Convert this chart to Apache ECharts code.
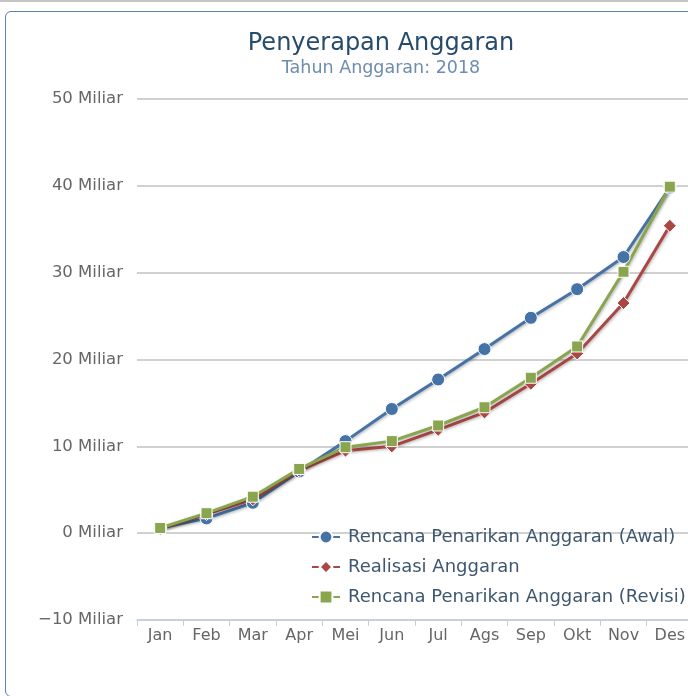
<!DOCTYPE html>
<html>
<head>
<meta charset="utf-8">
<title>Penyerapan Anggaran</title>
<script src="https://cdn.jsdelivr.net/npm/echarts@6/dist/echarts.min.js"></script>
<style>
    html, body { margin: 0; padding: 0; background: #fff; overflow: hidden; }
    .topline { position: absolute; left: 0; top: 0; width: 688px; height: 2px; background: #c4c4c4; }
    .box {
        position: absolute; left: 5px; top: 11px; width: 760px; height: 684px;
        border: 1px solid #5a82b4; border-radius: 6px; overflow: hidden;
    }
    #chart { position: absolute; left: -6px; top: -12px; width: 762px; height: 696px; }
</style>
</head>
<body>
<div class="topline"></div>
<div class="box"><div id="chart"></div></div>
<script>
// bulan
const months = ['Jan', 'Feb', 'Mar', 'Apr', 'Mei', 'Jun', 'Jul', 'Ags', 'Sep', 'Okt', 'Nov', 'Des']
// nilai dalam miliar
const rencanaAwal = [0.6, 1.7, 3.5, 7.1, 10.6, 14.3, 17.7, 21.2, 24.8, 28.1, 31.8, 39.8]
const realisasi = [0.5, 2.2, 3.9, 7.2, 9.5, 10.0, 11.9, 13.9, 17.2, 20.7, 26.5, 35.4]
const rencanaRevisi = [0.6, 2.3, 4.2, 7.4, 9.9, 10.6, 12.4, 14.5, 17.9, 21.5, 30.1, 39.9]

const font = 'DejaVu Sans'
const shadow = {
    shadowColor: 'rgba(0,0,0,0.3)',
    shadowBlur: 3,
    shadowOffsetX: 1,
    shadowOffsetY: 1
}

function makeSeries(name, data, color, symbol, size) {
    return {
        name: name,
        type: 'line',
        data: data,
        symbol: symbol,
        symbolSize: size,
        showAllSymbol: true,
        lineStyle: Object.assign({ color: color, width: 3 }, shadow),
        itemStyle: { color: color, borderColor: '#fff', borderWidth: 1 },
        emphasis: { disabled: true }
    }
}

let chart = echarts.init(document.getElementById('chart'))
chart.setOption({
    animation: false,
    title: {
        text: 'Penyerapan Anggaran',
        subtext: 'Tahun Anggaran: 2018',
        left: 'center',
        top: 27,
        itemGap: 3,
        textStyle: { color: '#274b6d', fontFamily: font, fontSize: 24, fontWeight: 'normal' },
        subtextStyle: { color: '#6d8caf', fontFamily: font, fontSize: 17.5 }
    },
    legend: {
        orient: 'vertical',
        left: 306,
        top: 523,
        itemWidth: 28,
        itemHeight: 16,
        itemGap: 12,
        textStyle: { color: '#3e576f', fontFamily: font, fontSize: 18, padding: [0, 0, 0, 3] },
        data: ['Rencana Penarikan Anggaran (Awal)', 'Realisasi Anggaran', 'Rencana Penarikan Anggaran (Revisi)']
    },
    grid: { left: 137, right: 69, top: 99, bottom: 76 },
    xAxis: {
        type: 'category',
        data: months,
        boundaryGap: true,
        axisLine: { onZero: false, lineStyle: { color: '#c0d0e0', width: 1.5 } },
        axisTick: { show: true, length: 6, lineStyle: { color: '#c0d0e0' } },
        axisLabel: { color: '#666', fontFamily: font, fontSize: 16, margin: 8 }
    },
    yAxis: {
        type: 'value',
        min: -10,
        max: 50,
        interval: 10,
        axisLine: { show: false },
        axisTick: { show: false },
        axisLabel: {
            color: '#666',
            fontFamily: font,
            fontSize: 16.5,
            margin: 14,
            formatter: v => String(v).replace('-', '\u2212') + ' Miliar'
        },
        splitLine: { lineStyle: { color: '#c0c0c0', width: 1.5 } }
    },
    series: [
        makeSeries('Rencana Penarikan Anggaran (Awal)', rencanaAwal, '#4572a7', 'circle', 13),
        makeSeries('Realisasi Anggaran', realisasi, '#aa4643', 'diamond', 13),
        makeSeries('Rencana Penarikan Anggaran (Revisi)', rencanaRevisi, '#89a54e', 'rect', 11)
    ]
})
</script>
</body>
</html>
